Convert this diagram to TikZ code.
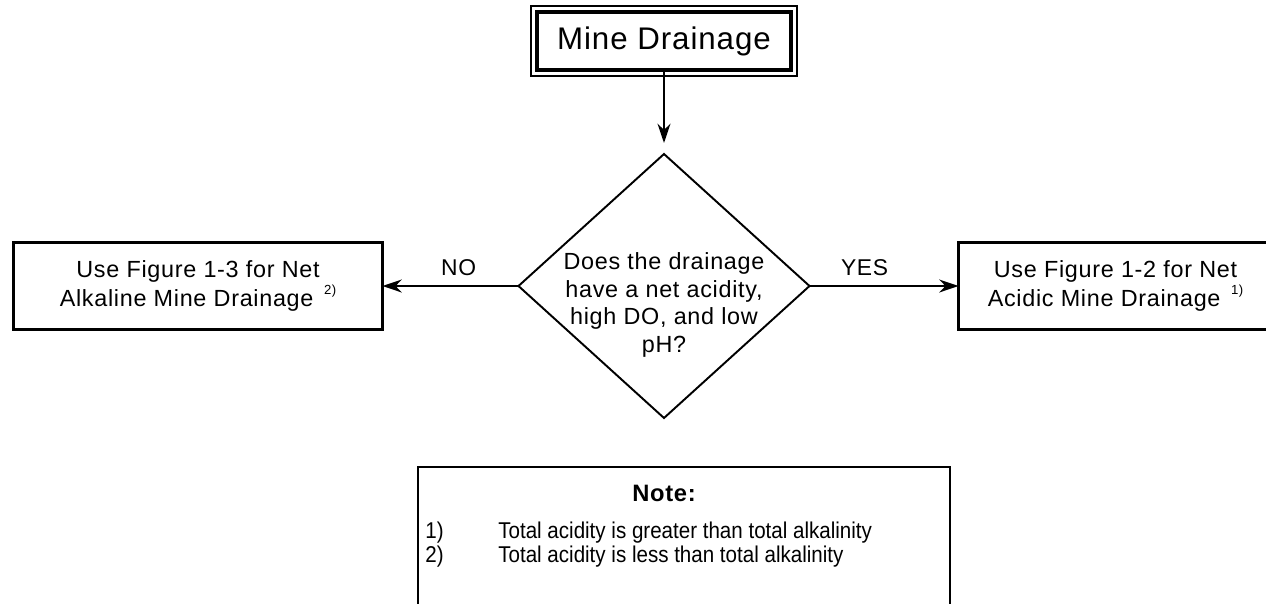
\documentclass[tikz,border=0pt]{standalone}
\usepackage{fontspec}
\setmainfont{Liberation Sans}
\newfontfamily\flowfont[LetterSpace=3]{Liberation Sans}
\newfontfamily\notefont[FakeStretch=0.9]{Liberation Sans}
\usetikzlibrary{arrows.meta}
\usetikzlibrary{shapes.geometric}
\usetikzlibrary{positioning}
\newcommand{\nota}[1]{\hspace{6pt}\raisebox{6.8pt}{\fontsize{7.5}{8}\selectfont #1}}
\tikzset{
  srcbox/.style={draw, line width=2.8pt, minimum width=5.08cm, minimum height=1.16cm, outer sep=0pt, font=\flowfont\fontsize{17.8}{20}\selectfont},
  decision/.style={draw, diamond, line width=1.1pt, minimum width=5.82cm, minimum height=5.28cm, inner sep=0pt, outer sep=0pt},
  dectext/.style={align=center, inner sep=0pt, font=\flowfont\fontsize{13.3}{15.6}\selectfont},
  outbox/.style={draw, line width=1.5pt, minimum width=#1, minimum height=1.74cm, align=center, outer sep=0pt, font=\flowfont\fontsize{13.3}{16.4}\selectfont},
  outbox/.default=7.38cm,
  notebox/.style={draw, line width=1.5pt, minimum width=10.64cm, minimum height=2.9cm, outer sep=0pt},
  lbl/.style={inner sep=0pt, font=\flowfont\fontsize{13}{15}\selectfont},
  seta/.style={-{Stealth[length=11pt, width=7.4pt]}, line width=1.1pt},
}
\begin{document}
\begin{tikzpicture}[node distance=1cm]
  \useasboundingbox (-13.28,0.82) rectangle (12.04,-11.24);
  \node[srcbox] (src) {Mine Drainage};
  \draw[line width=0.85pt] ([shift={(-0.12,0.12)}]src.north west) rectangle ([shift={(0.12,-0.12)}]src.south east);
  \node[decision, below=1.68cm of src] (dec) {};
  \node[dectext] (q) at ([yshift=-0.38cm]dec.center) {Does the drainage\\have a net acidity,\\high DO, and low\\pH?};
  \node[outbox, left=2.72cm of dec] (alk) {Use Figure 1-3 for Net\\Alkaline Mine Drainage\nota{2)}};
  \node[outbox=6.28cm, right=2.98cm of dec] (acid) {Use Figure 1-2 for Net\\Acidic Mine Drainage\nota{1)}};
  \draw[seta, shorten >=0.22cm] (src) -- (dec);
  \draw[seta] (dec) -- node[lbl, pos=0.44, above=5.5pt] (no) {NO} (alk);
  \draw[seta] (dec) -- node[lbl, pos=0.37, above=5.5pt] (yes) {YES} (acid);
  % note box
  \node[notebox, below=0.98cm of dec, xshift=0.4cm] (note) {};
  \node[inner sep=0pt, below=0.36cm of note.north, xshift=-0.4cm, font=\flowfont\bfseries\fontsize{13.5}{16}\selectfont] (nhead) {Note:};
  \node[inner sep=0pt, anchor=base west, font=\notefont\fontsize{13}{14}\selectfont] (nlist) at ([shift={(0.14cm,-1.42cm)}]note.north west)
    {\begin{tabular}[t]{@{}p{1.46cm}@{}l@{}}
      1) & Total acidity is greater than total alkalinity\\
      2) & Total acidity is less than total alkalinity
    \end{tabular}};
\end{tikzpicture}
\end{document}
